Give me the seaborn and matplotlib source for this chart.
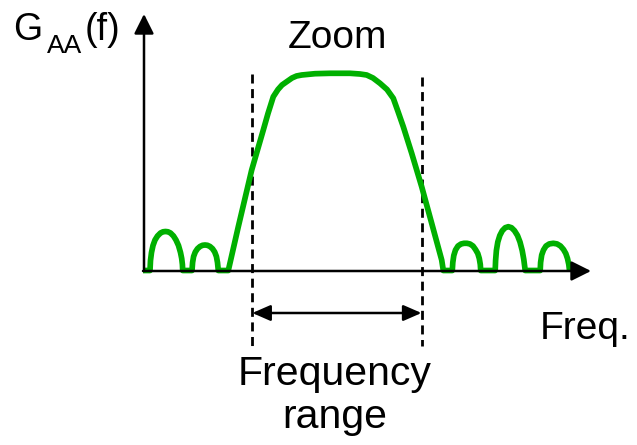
import matplotlib
matplotlib.use("Agg")
import matplotlib.pyplot as plt
import seaborn as sns
import pandas as pd

# Spectrum of the anti-aliasing filter: main lobe plus side lobes
freq = [143, 150,
        150.5, 151.5, 153, 155, 157.5, 160.5, 163, 165.5, 168, 170.5, 173.5, 176,
        178.5, 180.5, 181.7, 182.4, 182.7,
        192, 192.6, 193.6, 195.3, 197.5, 200, 202.5, 205, 207.5, 210, 212.5, 214.7,
        216.4, 217.5, 218.3,
        228.3, 238.3, 251.7, 263.3, 268, 273.3, 278, 282, 286.7, 292, 296.5, 301.7,
        315, 330, 350, 360, 366.7, 373, 380, 387, 393.3, 398, 403.3, 411.7, 421.7,
        431.7, 441.7, 443.3,
        452.3, 452.8, 453.8, 455.5, 458, 461, 464, 467, 470, 473, 475.5, 477.8, 479.3,
        480.3, 480.7,
        495.2, 495.6, 496.4, 497.8, 499.8, 502.3, 505.2, 508.3, 511.5, 514.5, 517.5,
        520, 522.2, 523.8, 524.7, 525.2,
        540.2, 540.6, 541.7, 543.5, 546, 549.3, 553.3, 557, 560.5, 563.5, 565.8,
        567.5, 568.8, 569.5]
level = [0, 0,
         10, 18, 25, 30.5, 34.5, 37.5, 38.7, 39, 38.7, 37.5, 34.5, 30.5,
         25, 18, 12, 6, 0,
         0, 8, 14, 18.5, 21.8, 24, 25.2, 25.5, 25.2, 24, 21.8, 18.5,
         14, 8, 0,
         0, 43.8, 100.5, 140.5, 157, 173.8, 181, 185.5, 188.8, 192.5, 194.5, 195.5,
         196.8, 197.2, 197.2, 196.5, 195.5, 192.5, 187.2, 181, 172.2, 159, 143.8, 117.2, 83.8,
         47.2, 10.5, 0,
         0, 8, 15, 20.5, 24.5, 26.5, 27.2, 27.2, 26.5, 24.5, 21, 17, 12,
         6, 0,
         0, 10, 20, 28.5, 35, 39.8, 42.8, 43.8, 42.8, 39.8, 35,
         28.5, 20, 11, 4, 0,
         0, 8, 15.5, 20.5, 24.5, 26.6, 27.2, 26.6, 24.5, 21, 17,
         12, 6, 0]

# Zoom band edges on the frequency axis
band_lo, band_hi = 252.3, 421.5

labels = {"zoom": "Zoom", "freq": "Freq.", "range1": "Frequency", "range2": "range"}

df = pd.DataFrame({"freq": freq, "level": level})

sns.set_theme(style="white")
plt.rcParams["font.family"] = ["Liberation Sans", "DejaVu Sans"]
plt.rcParams["lines.scale_dashes"] = False
plt.rcParams["text.color"] = "black"

fig = plt.figure(figsize=(6.37, 4.45), dpi=100)
ax = fig.add_axes([0, 0, 1, 1])

base = 270.5  # pixel row of the frequency axis

def y(pix):
    return base - pix

# Axes with arrowheads
axis_style = "-|>,head_length=12,head_width=6"
ax.annotate("", xy=(144, y(14)), xytext=(144, y(271)),
            arrowprops=dict(arrowstyle=axis_style, color="black", lw=1.8,
                            shrinkA=0, shrinkB=0, mutation_scale=1))
ax.annotate("", xy=(591, y(271)), xytext=(143, y(271)),
            arrowprops=dict(arrowstyle=axis_style, color="black", lw=1.8,
                            shrinkA=0, shrinkB=0, mutation_scale=1))

# Dashed band edges
for xb, top in ((band_lo, 74), (band_hi, 77)):
    ax.plot([xb, xb], [y(top), y(346)], color="black", lw=2.0,
            dashes=(6.5, 4.0), dash_capstyle="butt")

# Double arrow marking the frequency range
ax.annotate("", xy=(band_hi, y(313)), xytext=(band_lo, y(313)),
            arrowprops=dict(arrowstyle="<|-|>,head_length=11,head_width=4.8",
                            color="black", lw=1.8, shrinkA=0, shrinkB=0,
                            mutation_scale=1))

# Spectrum curve
sns.lineplot(data=df, x="freq", y="level", sort=False, color="#00b000",
             lw=4.1, ax=ax, legend=False)
ax.lines[-1].set_solid_joinstyle("round")
ax.lines[-1].set_solid_capstyle("butt")
ax.set_xlim(0, 637)
ax.set_ylim(base - 445, base)
ax.set_axis_off()

# Texts
ax.text(337.5, y(48), labels["zoom"], fontsize=28, ha="center", va="baseline", color="black")
ax.text(540, y(339), labels["freq"], fontsize=28, ha="left", va="baseline", color="black")
ax.text(334.5, y(385), labels["range1"], fontsize=29.5, ha="center", va="baseline", color="black")
ax.text(334.5, y(428), labels["range2"], fontsize=29.5, ha="center", va="baseline", color="black")

ax.text(13, y(40), "G", fontsize=27, ha="left", va="baseline", color="black")
ax.text(47, y(53), "AA", fontsize=19, ha="left", va="baseline", color="black")
ax.text(85, y(40), "(f)", fontsize=27, ha="left", va="baseline", color="black")

fig.savefig("out.png", dpi=100)
